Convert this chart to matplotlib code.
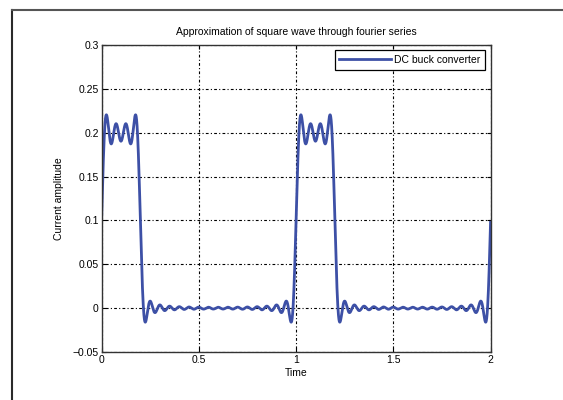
import numpy as np
import matplotlib.pyplot as plt
from matplotlib.lines import Line2D

# square wave parameters
amplitude = 0.2      # high level of the wave
duty = 0.2           # fraction of period that is high
period = 1.0
n_harmonics = 20     # ripple period ~0.05 -> ~20 terms
t_start, t_end = 0.0, 2.0

x_ticks = [0, 0.5, 1, 1.5, 2]
x_tick_labels = ['0', '0.5', '1', '1.5', '2']
y_ticks = [-0.05, 0, 0.05, 0.1, 0.15, 0.2, 0.25, 0.3]
y_tick_labels = ['\u22120.05', '0', '0.05', '0.1', '0.15', '0.2', '0.25', '0.3']

title = 'Approximation of square wave through fourier series'
series_name = 'DC buck converter'

plt.rcParams['font.family'] = ['Liberation Sans', 'DejaVu Sans']

t = np.linspace(t_start, t_end, 4001)
y = np.full_like(t, amplitude * duty)
for n in range(1, n_harmonics + 1):
    a_n = 2 * amplitude / (n * np.pi) * np.sin(n * np.pi * duty)
    y += a_n * np.cos(2 * np.pi * n * (t - duty * period / 2) / period)

fig = plt.figure(figsize=(5.63, 4.0), dpi=100)
ax = fig.add_axes([0.1803, 0.12, 0.691, 0.7675])

ax.plot(t, y, color='#3d50a6', lw=2, label=series_name)

ax.set_xlim(0, 2)
ax.set_ylim(-0.05, 0.3)
ax.set_xticks(x_ticks)
ax.set_xticklabels(x_tick_labels)
ax.set_yticks(y_ticks)
ax.set_yticklabels(y_tick_labels)
ax.tick_params(direction='in', labelsize=7.5, length=3, width=0.8,
               top=True, right=True, pad=2)
ax.grid(True, color='black', linestyle=(0, (1, 2, 2.5, 2)), linewidth=0.8)
for s in ax.spines.values():
    s.set_linewidth(1.0)
    s.set_color('#333333')

ax.set_title(title, fontsize=7.5, pad=7)
ax.set_xlabel('Time', fontsize=7.5, labelpad=2)
ax.set_ylabel('Current amplitude', fontsize=7.5, labelpad=6)

leg = ax.legend(loc='upper right', fontsize=7.5, fancybox=False,
                framealpha=1, edgecolor='black', handlelength=5.0,
                borderpad=0.45, handletextpad=0.3, borderaxespad=0.5)
leg.get_frame().set_linewidth(0.9)

# page border
fig.add_artist(Line2D([12 / 563, 12 / 563], [0, 1 - 10 / 400],
                      transform=fig.transFigure, color='#2a2a2a', lw=1.5))
fig.add_artist(Line2D([12 / 563, 1], [1 - 10 / 400, 1 - 10 / 400],
                      transform=fig.transFigure, color='#555555', lw=1.5))

fig.savefig('out.png', dpi=100)
